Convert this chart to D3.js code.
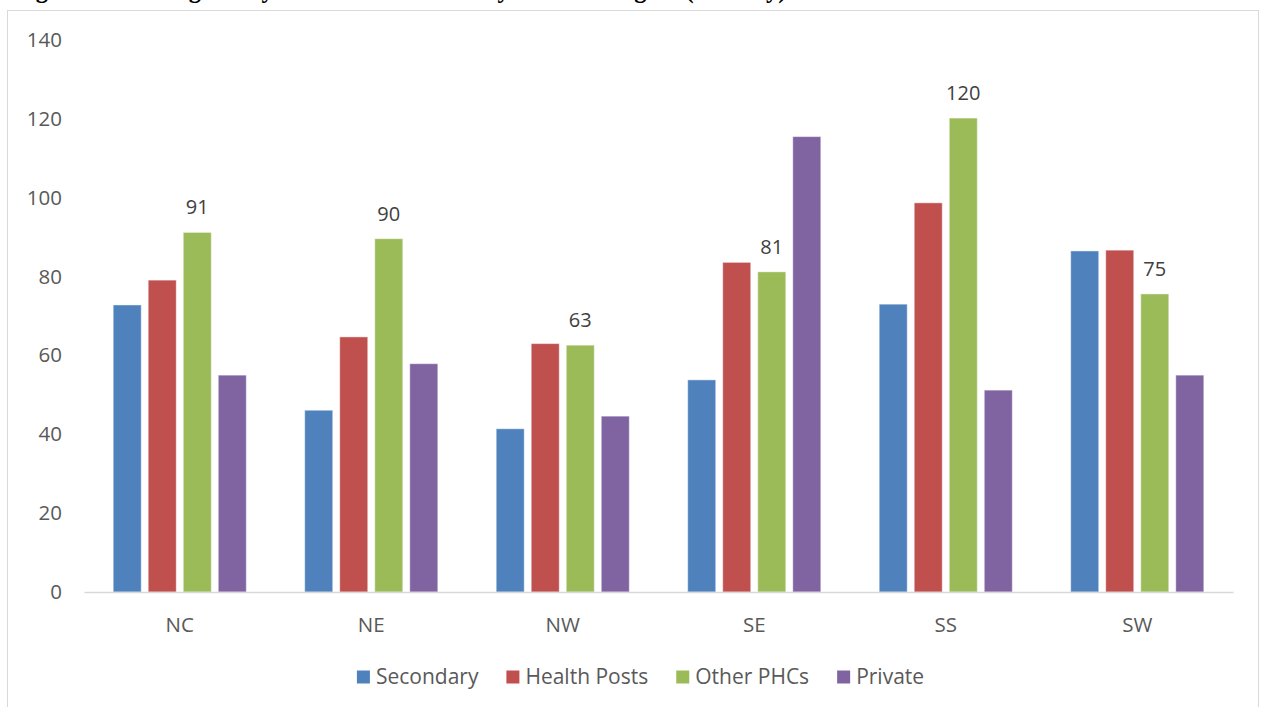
<!DOCTYPE html>
<html>
<head>
<meta charset="utf-8">
<script src="https://cdn.jsdelivr.net/npm/d3@7"></script>
<style>
  html, body { margin: 0; padding: 0; background: #ffffff; }
  svg { display: block; }
</style>
</head>
<body>
<svg id="chart" width="1262" height="707"></svg>
<script>
const titleText = "Figure 10: Average Daily Attendance at Facility Level in Region (Per Day)";
const categories = ["NC", "NE", "NW", "SE", "SS", "SW"];
const seriesNames = ["Secondary", "Health Posts", "Other PHCs", "Private"];
const secondary   = [72.8, 46.1, 41.4, 53.8, 73.0, 86.5];
const healthPosts = [79.1, 64.7, 63.0, 83.6, 98.7, 86.7];
const otherPHCs   = [91.2, 89.6, 62.6, 81.2, 120.2, 75.6];
const privateFac  = [55.0, 57.9, 44.6, 115.5, 51.2, 55.0];
const dataLabels  = ["91", "90", "63", "81", "120", "75"];
const yTicks = [0, 20, 40, 60, 80, 100, 120, 140];
const colors = ["#4F81BD", "#C0504D", "#9BBB59", "#8064A2"];

const seriesValues = [secondary, healthPosts, otherPHCs, privateFac];
const svg = d3.select("#chart");
const font = "'Open Sans', 'Noto Sans', sans-serif";
const textColor = "#595959";

// cut-off title at top (only descenders visible, as in the reference)
svg.append("text")
  .attr("x", 14).attr("y", -2.5)
  .attr("font-family", "'Liberation Serif', serif")
  .attr("font-weight", "bold")
  .attr("font-size", 24.5)
  .attr("fill", "#000")
  .text(titleText);

// chart frame
svg.append("rect")
  .attr("x", 7.5).attr("y", 10.5)
  .attr("width", 1251).attr("height", 720)
  .attr("fill", "none")
  .attr("stroke", "#d9d9d9")
  .attr("stroke-width", 1);

const plot = { left: 84, right: 1233, top: 40, bottom: 592 };

const x0 = d3.scaleBand()
  .domain(categories)
  .range([plot.left, plot.right])
  .paddingInner(0.305)
  .paddingOuter(0.1525);

const x1 = d3.scaleBand()
  .domain(seriesNames)
  .range([0, x0.bandwidth()])
  .paddingInner(0.2)
  .paddingOuter(0);

const y = d3.scaleLinear().domain([0, 140]).range([plot.bottom, plot.top]);

// y axis labels
const yAxis = d3.axisLeft(y).tickValues(yTicks).tickSize(0).tickPadding(0);
const gy = svg.append("g").attr("transform", `translate(62,0)`).call(yAxis);
gy.select(".domain").remove();
gy.selectAll("text")
  .attr("font-family", font).attr("font-size", 20.5).attr("fill", textColor);

// bars
const rows = categories.map((c, i) => ({ cat: c, vals: seriesNames.map((s, j) => ({ s, j, v: seriesValues[j][i] })) }));
const groups = svg.append("g").selectAll("g").data(rows).join("g")
  .attr("transform", d => `translate(${x0(d.cat)},0)`);
groups.selectAll("rect").data(d => d.vals).join("rect")
  .attr("x", d => x1(d.s))
  .attr("y", d => y(d.v))
  .attr("width", x1.bandwidth())
  .attr("height", d => y(0) - y(d.v))
  .attr("fill", d => colors[d.j])
  .attr("stroke", "rgba(255,255,255,0.45)")
  .attr("stroke-width", 1);

// data labels on Other PHCs
groups.append("text")
  .attr("x", x1("Other PHCs") + x1.bandwidth() / 2)
  .attr("y", (d, i) => y(otherPHCs[i]) - 18)
  .attr("text-anchor", "middle")
  .attr("font-family", font).attr("font-size", 20).attr("fill", "#404040")
  .text((d, i) => dataLabels[i]);

// x axis
const xAxis = d3.axisBottom(x0).tickSize(0).tickPadding(0);
const gx = svg.append("g").attr("transform", `translate(0,${plot.bottom})`).call(xAxis);
gx.select(".domain").attr("stroke", "#d9d9d9").attr("stroke-width", 1.3);
gx.selectAll("text")
  .attr("font-family", font).attr("font-size", 20.5).attr("fill", textColor)
  .attr("dy", 0).attr("y", 40);

// legend
const legend = svg.append("g");
const items = legend.selectAll("g").data(seriesNames).join("g");
items.append("rect").attr("width", 13).attr("height", 13).attr("y", -6.5)
  .attr("fill", (d, i) => colors[i]);
items.append("text").attr("x", 19).attr("dy", "0.35em")
  .attr("font-family", font).attr("font-size", 21).attr("fill", textColor)
  .text(d => d);
let cx = 0;
const offs = [];
items.each(function (d) {
  offs.push(cx);
  const w = 19 + d3.select(this).select("text").node().getComputedTextLength();
  cx += w + 28;
});
const total = cx - 28;
const startX = 640.5 - total / 2;
items.attr("transform", (d, i) => `translate(${startX + offs[i]},677)`);
</script>
</body>
</html>
